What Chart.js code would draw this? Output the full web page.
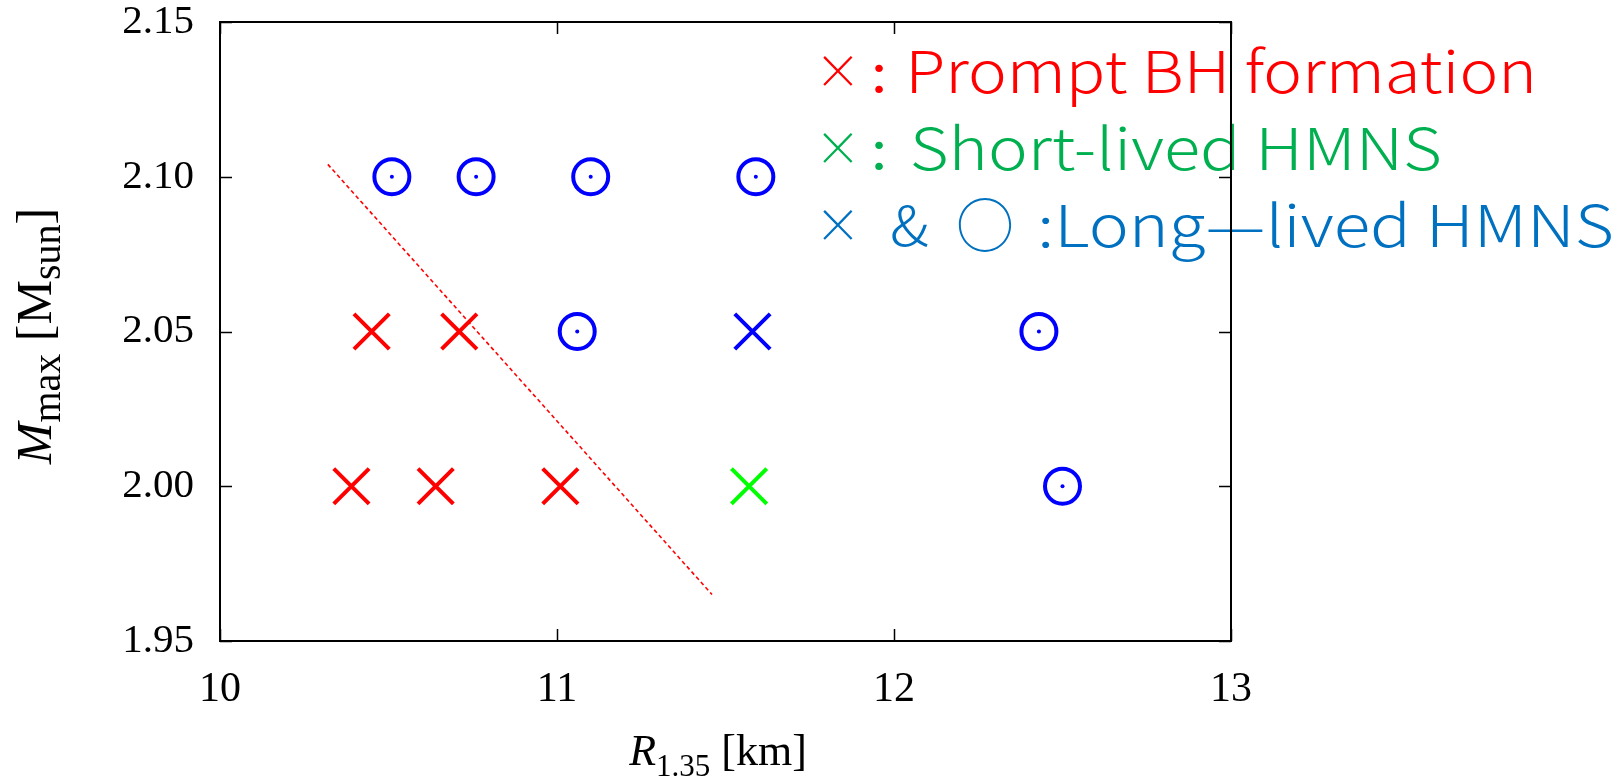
<!DOCTYPE html>
<html>
<head>
<meta charset="utf-8">
<script src="https://cdn.jsdelivr.net/npm/chart.js@4/dist/chart.umd.min.js"></script>
<style>
  html, body { margin: 0; padding: 0; background: #ffffff; }
  #wrap { width: 1622px; height: 779px; }
</style>
</head>
<body>
<div id="wrap"><canvas id="c" width="1622" height="779"></canvas></div>
<script>
// Axis ticks
const xTicks = [10, 11, 12, 13];
const yTicks = [1.95, 2.00, 2.05, 2.10, 2.15];

// Long-lived HMNS (circles)
const longCircleR = [10.51, 10.76, 11.10, 11.59, 11.06, 12.43, 12.50];
const longCircleM = [2.10, 2.10, 2.10, 2.10, 2.05, 2.05, 2.00];
// Prompt BH formation (red crosses)
const promptR = [10.45, 10.71, 10.39, 10.64, 11.01];
const promptM = [2.05, 2.05, 2.00, 2.00, 2.00];
// Short-lived HMNS (green cross)
const shortR = [11.57];
const shortM = [2.00];
// Long-lived HMNS (blue cross)
const longCrossR = [11.58];
const longCrossM = [2.05];
// Dividing line between prompt collapse and HMNS
const boundaryR = [10.32, 11.46];
const boundaryM = [2.104, 1.965];

const pts = (xs, ys) => xs.map((v, i) => ({ x: v, y: ys[i] }));

const SERIF = '"Liberation Serif", "DejaVu Serif", serif';
const SANS = '"Noto Sans CJK JP", "Noto Sans", sans-serif';

// Text drawn so that its ink spans [x0, x1] horizontally, sitting on a baseline
function fitRun(ctx, text, font, x0, x1, baseline) {
  ctx.font = font;
  const m = ctx.measureText(text);
  const inkW = m.actualBoundingBoxLeft + m.actualBoundingBoxRight;
  const sx = (x1 - x0) / inkW;
  ctx.save();
  ctx.translate(x0, baseline);
  ctx.scale(sx, 1);
  ctx.textAlign = 'left';
  ctx.textBaseline = 'alphabetic';
  ctx.fillText(text, m.actualBoundingBoxLeft, 0);
  ctx.restore();
}

// Glyph fitted into a box
function fitBox(ctx, text, font, x0, x1, y0, y1) {
  ctx.font = font;
  const m = ctx.measureText(text);
  const inkW = m.actualBoundingBoxLeft + m.actualBoundingBoxRight;
  const inkH = m.actualBoundingBoxAscent + m.actualBoundingBoxDescent;
  ctx.save();
  ctx.translate(x0, y0);
  ctx.scale((x1 - x0) / inkW, (y1 - y0) / inkH);
  ctx.textAlign = 'left';
  ctx.textBaseline = 'alphabetic';
  ctx.fillText(text, m.actualBoundingBoxLeft, m.actualBoundingBoxAscent);
  ctx.restore();
}

// Rich text with subscripts, centred on (cx, baseline)
function richText(ctx, parts, cx, baseline) {
  let total = 0;
  parts.forEach(p => { ctx.font = p.font; p.w = ctx.measureText(p.t).width; total += p.w; });
  let x = cx - total / 2;
  ctx.textAlign = 'left';
  ctx.textBaseline = 'alphabetic';
  parts.forEach(p => { ctx.font = p.font; ctx.fillText(p.t, x, baseline + (p.dy || 0)); x += p.w; });
}

function drawKey(ctx) {
  const F = '300 58px ' + SANS;
  const C = '400 58px ' + SANS;
  // Prompt BH formation
  ctx.fillStyle = '#ff0000';
  fitBox(ctx, '×', F, 823, 853, 56, 86);
  fitBox(ctx, ':', C, 875, 883, 64, 93);
  fitRun(ctx, 'Prompt BH formation', F, 912, 1532, 93);
  // Short-lived HMNS
  ctx.fillStyle = '#00b050';
  fitBox(ctx, '×', F, 823, 853, 133, 163);
  fitBox(ctx, ':', C, 875, 883, 141, 170);
  fitRun(ctx, 'Short-lived HMNS', F, 912, 1440, 170);
  // Long-lived HMNS
  ctx.fillStyle = '#0070c0';
  fitBox(ctx, '×', F, 823, 853, 210, 240);
  fitBox(ctx, '&', F, 892, 928, 205, 247);
  fitBox(ctx, '○', F, 958, 1012, 198, 252);
  fitRun(ctx, ':Long—lived HMNS', F, 1042, 1612, 247);
}

const framePlugin = {
  id: 'frame',
  afterDraw(chart) {
    const { ctx, chartArea: a, scales: { x, y } } = chart;
    ctx.save();
    drawKey(ctx);

    // frame and inward tick marks on all four sides
    ctx.strokeStyle = '#000000';
    ctx.lineWidth = 2;
    ctx.strokeRect(a.left, a.top, a.right - a.left, a.bottom - a.top);
    ctx.lineWidth = 1.5;
    ctx.beginPath();
    xTicks.forEach(v => {
      const px = Math.round(x.getPixelForValue(v)) + 0.5;
      ctx.moveTo(px, a.bottom); ctx.lineTo(px, a.bottom - 12);
      ctx.moveTo(px, a.top); ctx.lineTo(px, a.top + 12);
    });
    yTicks.forEach(v => {
      const py = Math.round(y.getPixelForValue(v)) + 0.5;
      ctx.moveTo(a.left, py); ctx.lineTo(a.left + 12, py);
      ctx.moveTo(a.right, py); ctx.lineTo(a.right - 12, py);
    });
    ctx.stroke();

    // axis titles
    ctx.fillStyle = '#000000';
    richText(ctx, [
      { t: 'R', font: 'italic 44px ' + SERIF },
      { t: '1.35', font: '31px ' + SERIF, dy: 11 },
      { t: ' [km]', font: '44px ' + SERIF }
    ], 718, 765);

    ctx.save();
    ctx.translate(51, 336);
    ctx.rotate(-Math.PI / 2);
    richText(ctx, [
      { t: 'M', font: 'italic 50px ' + SERIF },
      { t: 'max', font: '40px ' + SERIF, dy: 9 },
      { t: ' [M', font: '50px ' + SERIF },
      { t: 'sun', font: '40px ' + SERIF, dy: 9 },
      { t: ']', font: '50px ' + SERIF }
    ], 0, 0);
    ctx.restore();
    ctx.restore();
  }
};

const crossStyle = (color) => ({
  pointStyle: 'crossRot',
  pointRadius: 25,
  pointBorderWidth: 4,
  borderColor: color,
  backgroundColor: color,
  showLine: false
});

new Chart(document.getElementById('c'), {
  type: 'scatter',
  data: {
    datasets: [
      {
        label: 'boundary',
        data: pts(boundaryR, boundaryM),
        showLine: true,
        borderColor: '#ff0000',
        borderWidth: 1.6,
        borderDash: [4, 3],
        pointRadius: 0,
        fill: false
      },
      Object.assign({ label: 'Prompt BH formation', data: pts(promptR, promptM) }, crossStyle('#ff0000')),
      Object.assign({ label: 'Short-lived HMNS', data: pts(shortR, shortM) }, crossStyle('#00ff00')),
      Object.assign({ label: 'Long-lived HMNS (cross)', data: pts(longCrossR, longCrossM) }, crossStyle('#0000ff')),
      {
        label: 'Long-lived HMNS',
        data: pts(longCircleR, longCircleM),
        pointStyle: 'circle',
        pointRadius: 17.5,
        pointBorderWidth: 4,
        borderColor: '#0000ff',
        backgroundColor: 'rgba(0,0,0,0)',
        showLine: false
      },
      {
        label: 'Long-lived HMNS (centre)',
        data: pts(longCircleR, longCircleM),
        pointStyle: 'circle',
        pointRadius: 2,
        pointBorderWidth: 0,
        borderColor: '#0000ff',
        backgroundColor: '#0000ff',
        showLine: false
      }
    ]
  },
  options: {
    responsive: false,
    animation: false,
    devicePixelRatio: 1,
    events: [],
    layout: { autoPadding: false, padding: { top: 22, right: 391, left: 0, bottom: 0 } },
    plugins: { legend: { display: false }, tooltip: { enabled: false } },
    scales: {
      x: {
        type: 'linear',
        min: 10, max: 13,
        afterBuildTicks: s => { s.ticks = xTicks.map(v => ({ value: v })); },
        afterFit: s => { s.height = 779 - 641; s.paddingLeft = 0; s.paddingRight = 0; },
        grid: { display: false, drawTicks: false },
        border: { display: false },
        ticks: {
          padding: 24,
          color: '#000000',
          font: { family: SERIF, size: 42 },
          maxRotation: 0,
          callback: v => String(v)
        }
      },
      y: {
        type: 'linear',
        min: 1.95, max: 2.15,
        afterBuildTicks: s => { s.ticks = yTicks.map(v => ({ value: v })); },
        afterFit: s => { s.width = 220; s.paddingTop = 0; s.paddingBottom = 0; },
        grid: { display: false, drawTicks: false },
        border: { display: false },
        ticks: {
          padding: 26,
          color: '#000000',
          font: { family: SERIF, size: 41 },
          callback: v => Number(v).toFixed(2)
        }
      }
    }
  },
  plugins: [framePlugin]
});
</script>
</body>
</html>
